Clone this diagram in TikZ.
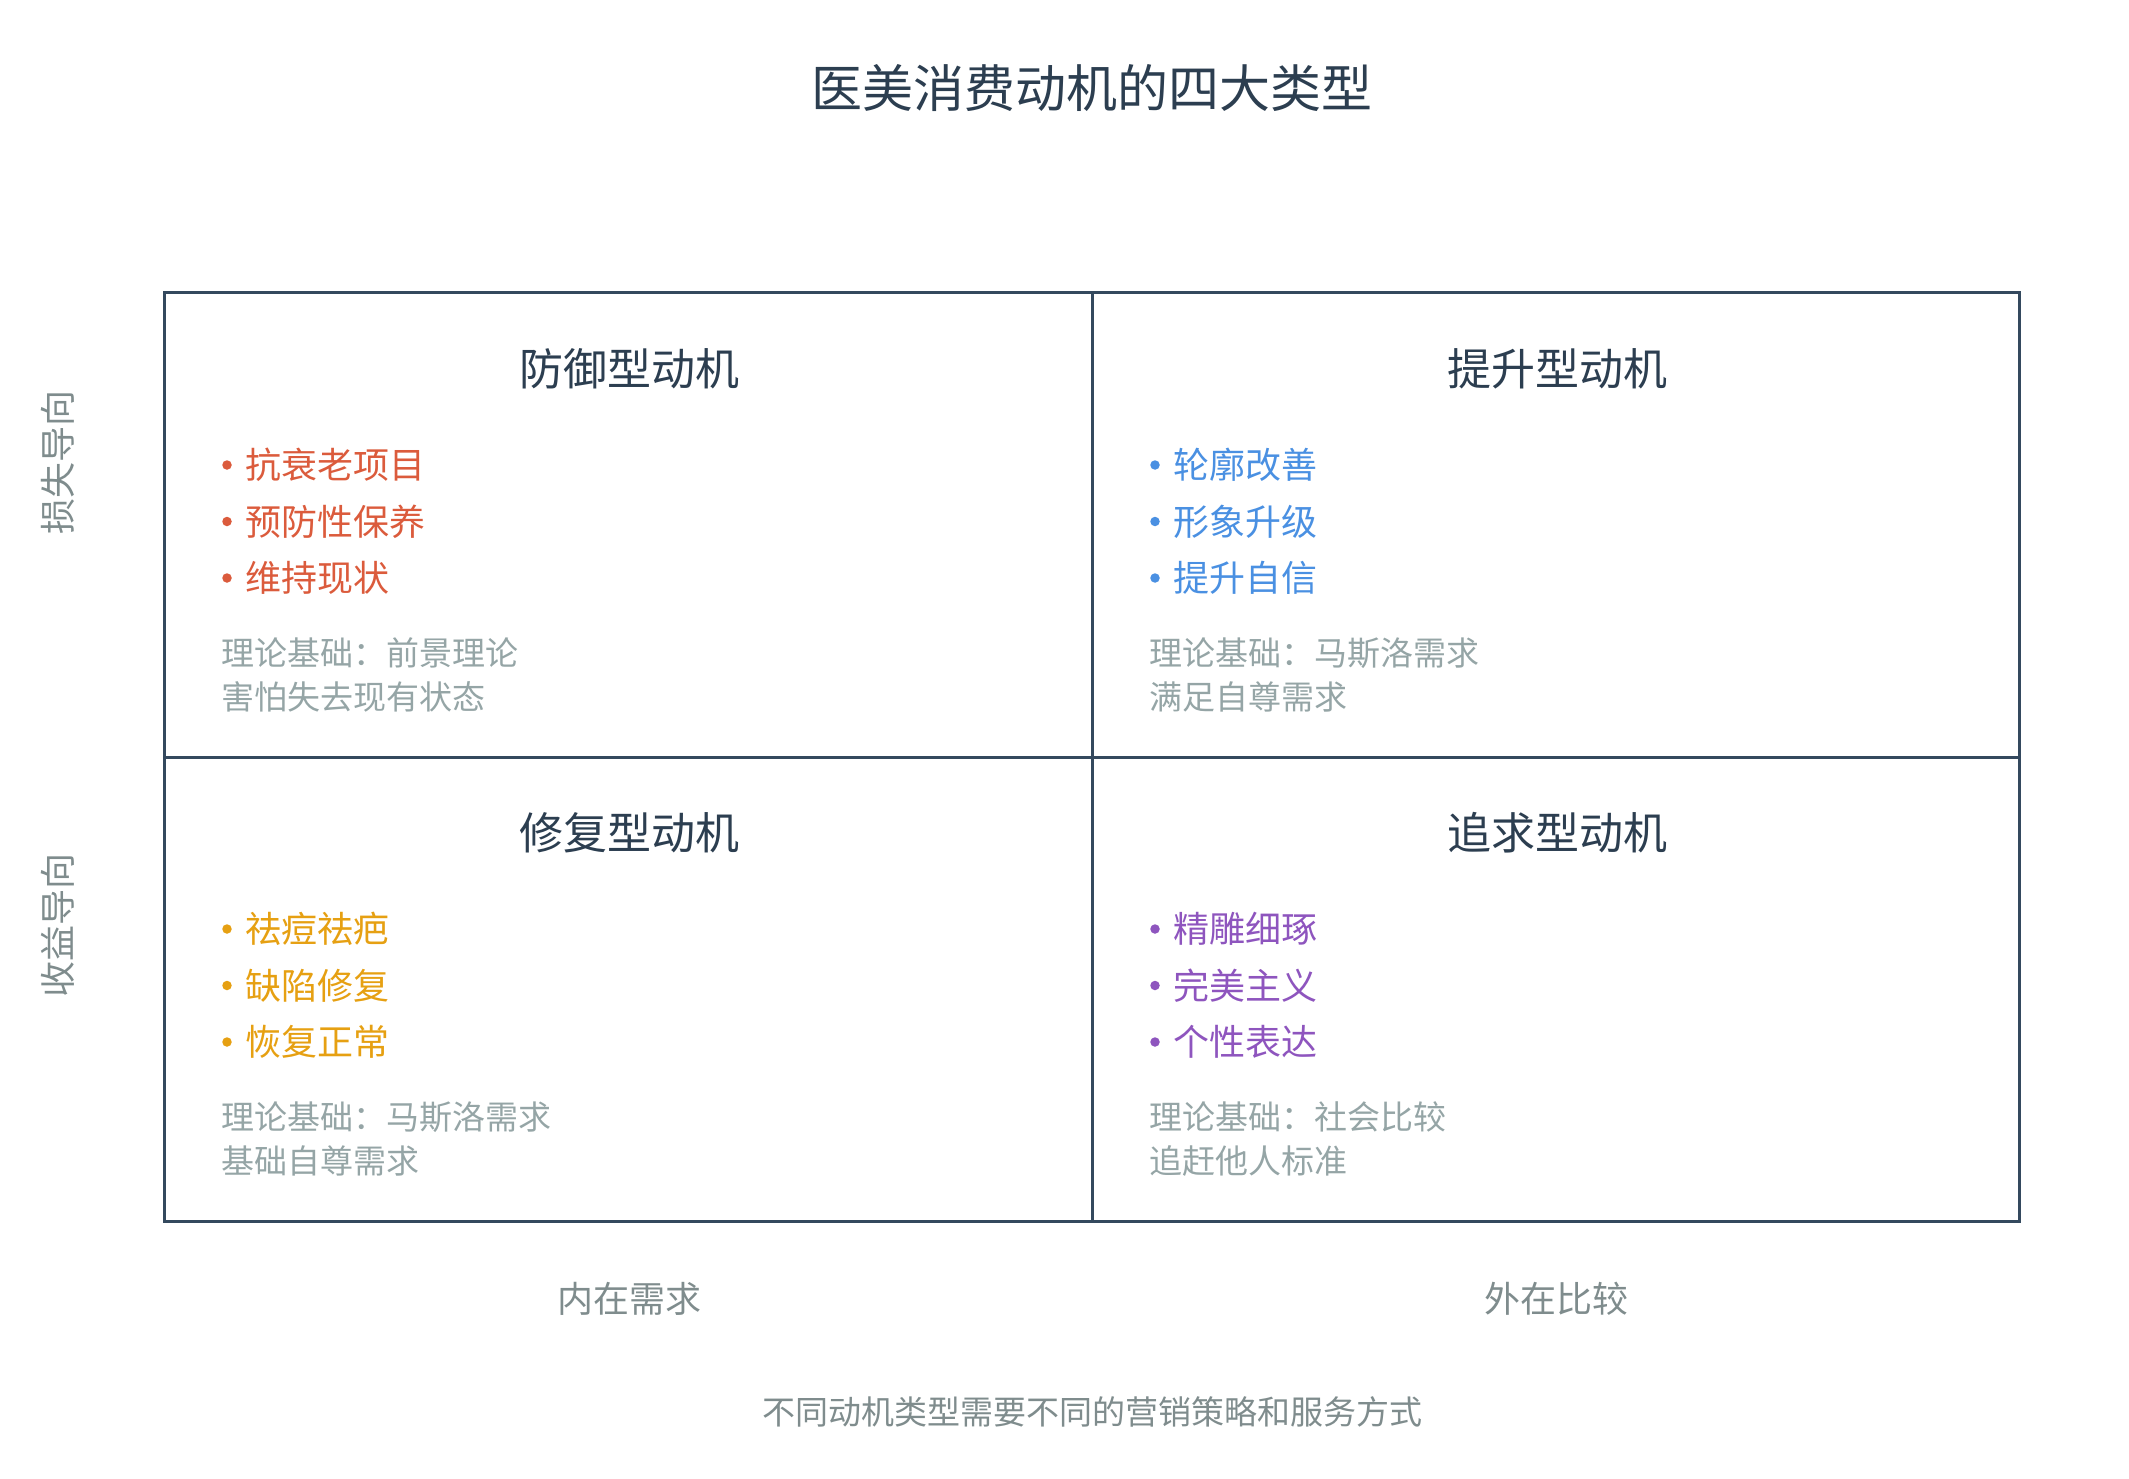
\documentclass[tikz,border=0pt]{standalone}
\usepackage{fontspec}
\setmainfont{Noto Sans CJK SC}
\usetikzlibrary{positioning}
\definecolor{ink}{HTML}{2C3E50}
\definecolor{gridline}{HTML}{34495E}
\definecolor{lossred}{HTML}{DB5B3C}
\definecolor{liftblue}{HTML}{4A90E2}
\definecolor{fixgold}{HTML}{E6A012}
\definecolor{chasepurple}{HTML}{8E55BE}
\definecolor{note}{HTML}{95A5A6}
\definecolor{axisgray}{HTML}{7F8C8D}
\tikzset{
  maintitle/.style={text=ink,font=\fontsize{51}{60}\selectfont},    % top title
  cellhead/.style={text=ink,font=\fontsize{44}{52}\selectfont},     % quadrant title
  item/.style={anchor=west,inner sep=0pt,font=\fontsize{36}{42}\selectfont},
  bullet/.style={circle,inner sep=0pt,minimum size=9.5pt},
  basis/.style={anchor=west,inner sep=0pt,text=note,font=\fontsize{33}{40}\selectfont},
  axlab/.style={text=axisgray,font=\fontsize{36}{42}\selectfont},
  footnote/.style={text=axisgray,font=\fontsize{33}{40}\selectfont},
  cell/.style={draw=gridline,line width=3pt},
}

\begin{document}
\begin{tikzpicture}[x=1pt,y=-1pt]
  \useasboundingbox (0,0) rectangle (2129,1479);
  \node[maintitle] (title) at (1092,88) {医美消费动机的四大类型};

  % matrix frame
  \coordinate (nw) at (164,293);
  \coordinate (se) at (2019,1221);
  \draw[cell] (nw) rectangle (se);
  \draw[cell] (1092,293) -- (1092,1221);
  \draw[cell] (164,757) -- (2019,757);

  % quadrants
  \foreach \id/\dx/\dy/\col/\hd/\ia/\ib/\ic/\ba/\bb in {
    def/0/0/lossred/防御型动机/抗衰老项目/预防性保养/维持现状/理论基础：前景理论/害怕失去现有状态,
    lift/928/0/liftblue/提升型动机/轮廓改善/形象升级/提升自信/理论基础：马斯洛需求/满足自尊需求,
    fix/0/464/fixgold/修复型动机/祛痘祛疤/缺陷修复/恢复正常/理论基础：马斯洛需求/基础自尊需求,
    chase/928/464/chasepurple/追求型动机/精雕细琢/完美主义/个性表达/理论基础：社会比较/追赶他人标准}
  {
    \node[cellhead] (\id-head) at (629+\dx,369+\dy) {\hd};
    \foreach \it [count=\k] in {\ia,\ib,\ic} {
      \node[bullet,fill=\col] (\id-dot\k) at (227+\dx,465+56.5*\k-56.5+\dy) {};
      \node[item,text=\col,right=13pt of \id-dot\k] (\id-item\k) {\it};
    }
    \node[basis] (\id-basis1) at (221+\dx,653+\dy) {\ba};
    \node[basis] (\id-basis2) at (221+\dx,697+\dy) {\bb};
  }

  % axis labels
  \node[axlab,rotate=90] (loss) at (58,462) {损失导向};
  \node[axlab,rotate=90] (gain) at (58,925) {收益导向};
  \node[axlab] (inner) at (629,1299) {内在需求};
  \node[axlab] (outer) at (1556,1299) {外在比较};

  \node[footnote] (foot) at (1092,1412) {不同动机类型需要不同的营销策略和服务方式};
\end{tikzpicture}
\end{document}
